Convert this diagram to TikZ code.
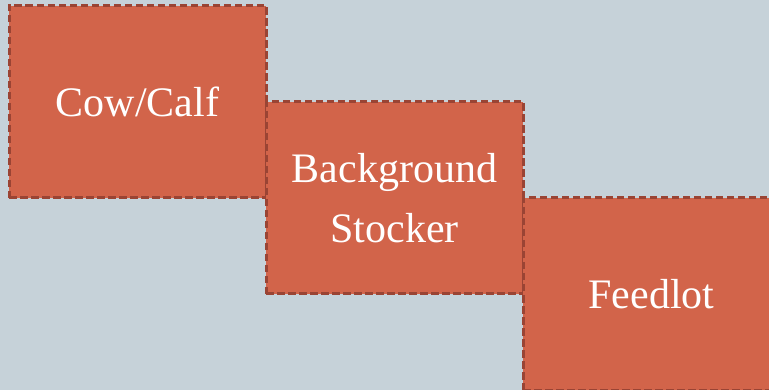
\documentclass[tikz,border=0pt]{standalone}
\usepackage{fontspec}
\setmainfont{Liberation Serif}
\usetikzlibrary{positioning}

\definecolor{slate}{HTML}{C6D2D9}
\definecolor{rust}{HTML}{D2644A}
\definecolor{rustdark}{HTML}{9A4434}

\tikzset{
  stage/.style={rectangle, fill=rust, draw=rustdark, line width=3pt,
    dash pattern=on 7.5pt off 3.5pt, minimum width=257pt, minimum height=192pt,
    inner sep=0pt, outer sep=0pt, text=white, align=center,
    font=\fontsize{42}{60}\selectfont}
}

\begin{document}
\begin{tikzpicture}
  % Background
  \fill[slate] (0,0) rectangle (769pt,-390pt);
  \useasboundingbox (0,0) rectangle (769pt,-390pt);
  \clip (0,0) rectangle (769pt,-390pt);

  % Stages, stepping down to the right
  \node[stage] (cowcalf) at (137.5pt,-102pt) {Cow/Calf};
  \node[stage, anchor=north west] (stocker) at (cowcalf.east) {Background\\Stocker};
  \node[stage, anchor=north west] (feedlot) at (stocker.east) {Feedlot};
\end{tikzpicture}
\end{document}
